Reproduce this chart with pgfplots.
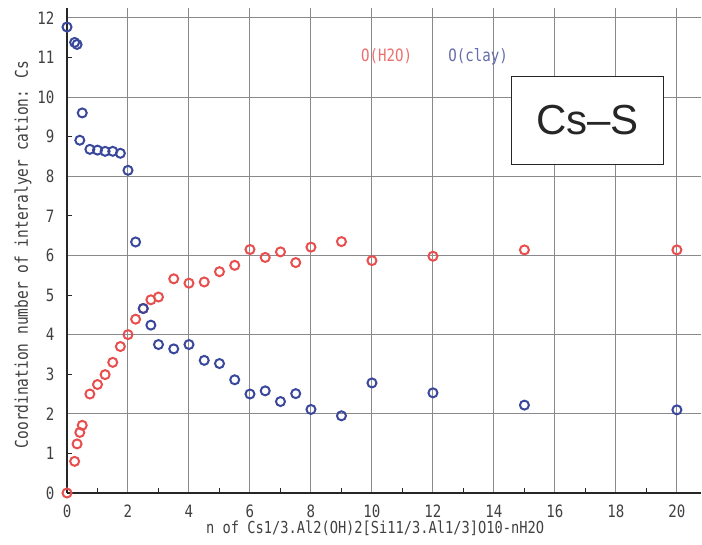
\documentclass[border=0pt]{standalone}
\usepackage{fontspec}
\setmainfont{Liberation Sans}
\newfontfamily\gothic[FakeStretch=0.83]{DejaVu Sans Mono}
\usepackage{pgfplots}
\pgfplotsset{compat=1.18}
\definecolor{redm}{RGB}{232,78,78}
\definecolor{bluem}{RGB}{58,72,155}
\definecolor{redt}{RGB}{236,110,110}
\definecolor{bluet}{RGB}{100,108,170}
\definecolor{gridc}{RGB}{138,138,142}
\begin{document}
\begin{tikzpicture}
\useasboundingbox (-67pt,-51pt) rectangle (635pt,493pt);
\begin{axis}[
  at={(0,0)}, anchor=south west,
  scale only axis, width=634pt, height=485pt,
  xmin=0, xmax=20.79, ymin=0, ymax=12.25,
  axis lines=left,
  axis line style={-, black!85, line width=1.3pt},
  tick align=inside,
  xtick={0,2,...,20}, minor xtick={1,3,...,19},
  ytick={0,2,...,12},
  extra y ticks={1,3,5,7,9,11},
  extra y tick style={grid=none},
  xmajorgrids, ymajorgrids,
  major grid style={gridc, line width=1pt},
  major tick length=0pt, minor tick length=5pt,
  extra tick style={major tick length=5pt},
  tick style={black!85, line width=1pt},
  /pgf/number format/assume math mode=true,
  tick label style={font=\fontsize{17}{17}\gothic, text=black!75},
  xticklabel style={anchor=base, yshift=-24pt},
  yticklabel style={anchor=east, xshift=-9pt},
  xlabel={n of Cs1/3.Al2(OH)2[Si11/3.Al1/3]O10-nH2O},
  ylabel={Coordination number of interalyer cation: Cs},
  xlabel style={font=\fontsize{16.5}{16.5}\gothic, text=black!75, at={(rel axis cs:0.486,0)}, anchor=center, yshift=-35pt},
  ylabel style={font=\fontsize{17.5}{17.5}\gothic, text=black!75, at={(rel axis cs:0,0.492)}, anchor=center, yshift=44pt},
  clip=false,
]
\addplot[only marks, mark=o, mark size=4.5pt, redm, line width=2pt] coordinates {
(0,0) (0.25,0.80) (0.33,1.24) (0.42,1.53) (0.5,1.71) (0.75,2.50) (1,2.74)
(1.25,2.99) (1.5,3.30) (1.75,3.70) (2,4.00) (2.25,4.39) (2.5,4.66) (2.75,4.88)
(3,4.95) (3.5,5.41) (4,5.30) (4.5,5.33) (5,5.59) (5.5,5.75) (6,6.15) (6.5,5.95)
(7,6.09) (7.5,5.82) (8,6.21) (9,6.35) (10,5.87) (12,5.98) (15,6.14) (20,6.14)
};
\addplot[only marks, mark=o, mark size=4.5pt, bluem, line width=2pt] coordinates {
(0,11.77) (0.25,11.38) (0.33,11.33) (0.42,8.91) (0.5,9.60) (0.75,8.68) (1,8.66)
(1.25,8.63) (1.5,8.63) (1.75,8.58) (2,8.15) (2.25,6.34) (2.5,4.66) (2.75,4.24)
(3,3.75) (3.5,3.64) (4,3.75) (4.5,3.35) (5,3.27) (5.5,2.86) (6,2.50) (6.5,2.58)
(7,2.31) (7.5,2.51) (8,2.11) (9,1.95) (10,2.78) (12,2.53) (15,2.22) (20,2.10)
};
\node[font=\fontsize{17}{17}\gothic, text=redt] at (axis cs:10.48,11.03) {O(H2O)};
\node[font=\fontsize{17}{17}\gothic, text=bluet] at (axis cs:13.48,11.03) {O(clay)};
\node[draw=black!85, line width=1.6pt, fill=white, minimum width=152pt, minimum height=88pt,
  font=\fontsize{42}{42}\selectfont, text=black!85] at (axis cs:17.07,9.41) {Cs–S};
\end{axis}
\end{tikzpicture}
\end{document}
